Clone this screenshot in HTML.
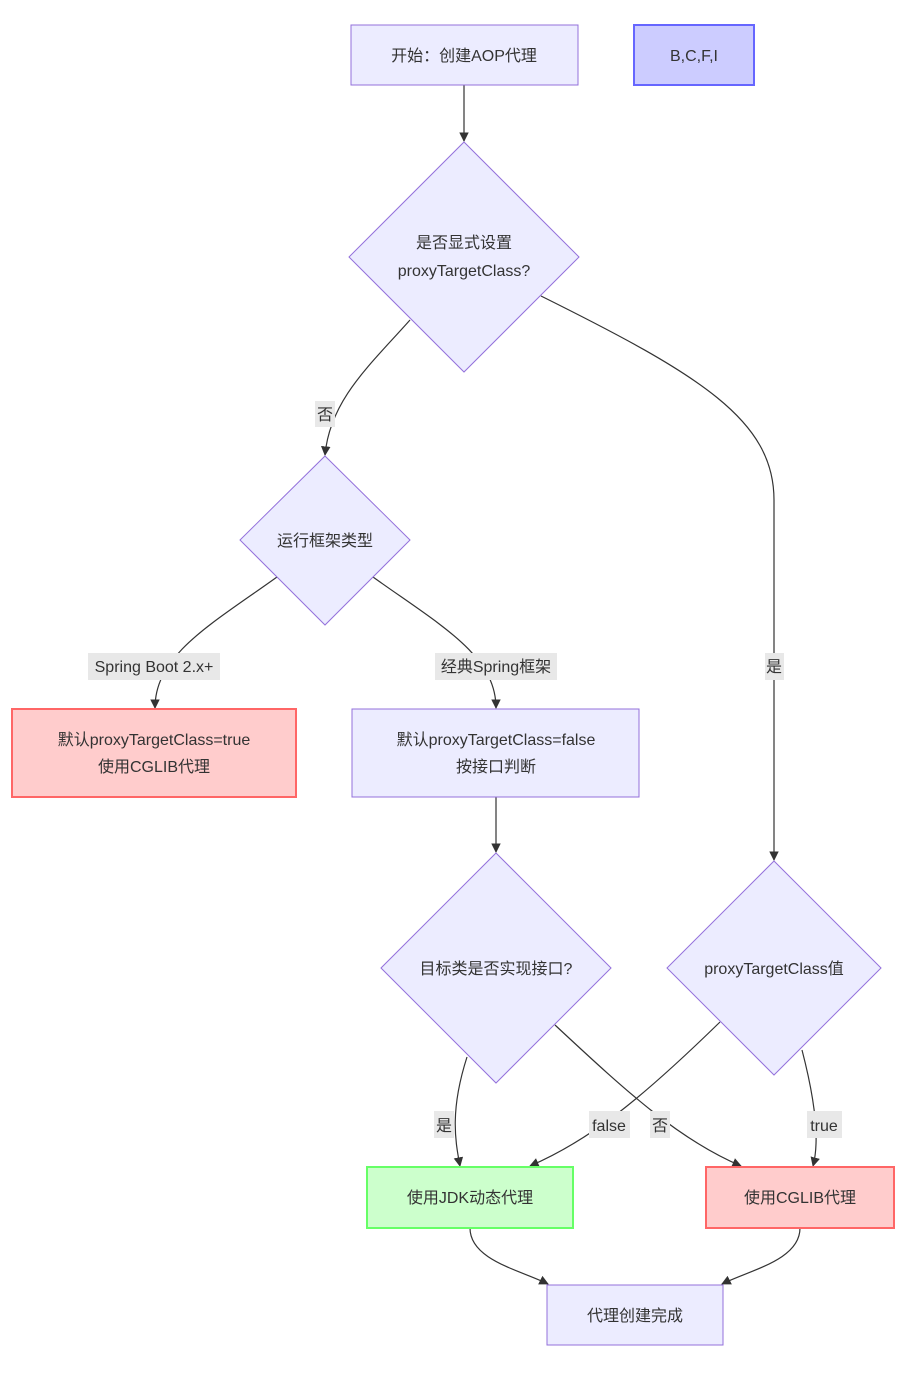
<!DOCTYPE html>
<html><head><meta charset="utf-8"><style>
html,body{margin:0;padding:0;background:#fff;}
svg text{font-family:"Liberation Sans","Noto Sans CJK SC",sans-serif;font-size:16px;fill:#333;}
</style></head><body>
<svg width="902" height="1373" viewBox="0 0 902 1373" xmlns="http://www.w3.org/2000/svg">
<defs><marker id="a" viewBox="0 0 10 10" refX="9" refY="5" markerWidth="8" markerHeight="8" orient="auto"><path d="M0,0L10,5L0,10z" fill="#333"/></marker></defs>
<g fill="none" stroke="#333" stroke-width="1.2" marker-end="url(#a)">
<path d="M464,85L464,141"/>
<path d="M410,320C370,365 330,400 325,455"/>
<path d="M541,296C700,375 774,420 774,500L774,860"/>
<path d="M277,577C210,625 155,655 155,708"/>
<path d="M373,577C440,625 496,655 496,708"/>
<path d="M496,797L496,852"/>
<path d="M467,1057C450,1110 455,1140 460,1166"/>
<path d="M555,1025C630,1095 680,1140 741,1166"/>
<path d="M720,1022C640,1100 590,1140 530,1166"/>
<path d="M802,1050C815,1100 820,1140 813,1166"/>
<path d="M470,1228C470,1260 520,1270 548,1284"/>
<path d="M800,1228C800,1260 750,1270 722,1284"/>
</g>
<g fill="#ECECFF" stroke="#9370DB" stroke-width="1">
<rect x="351" y="25" width="227" height="60"/>
<polygon points="464,142 579,257 464,372 349,257"/>
<polygon points="325,456 410,540 325,625 240,540"/>
<rect x="352" y="709" width="287" height="88"/>
<polygon points="496,853 611,968 496,1083 381,968"/>
<polygon points="774,861 881,968 774,1075 667,968"/>
<rect x="547" y="1285" width="176" height="60"/>
</g>
<rect x="634" y="25" width="120" height="60" fill="#ccccff" stroke="#6666ff" stroke-width="2"/>
<rect x="12" y="709" width="284" height="88" fill="#ffcccc" stroke="#ff6666" stroke-width="2"/>
<rect x="367" y="1167" width="206" height="61" fill="#ccffcc" stroke="#66ff66" stroke-width="2"/>
<rect x="706" y="1167" width="188" height="61" fill="#ffcccc" stroke="#ff6666" stroke-width="2"/>
<g fill="#e8e8e8">
<rect x="315" y="401" width="20" height="26"/>
<rect x="88" y="653" width="132" height="27"/>
<rect x="435" y="653" width="122" height="27"/>
<rect x="765" y="653" width="19" height="27"/>
<rect x="434" y="1111" width="20" height="27"/>
<rect x="589" y="1111" width="41" height="27"/>
<rect x="650" y="1111" width="20" height="27"/>
<rect x="807" y="1111" width="35" height="27"/>
</g>
<g text-anchor="middle">
<text x="464" y="61">开始：创建AOP代理</text>
<text x="694" y="61">B,C,F,I</text>
<text x="464" y="248">是否显式设置</text>
<text x="464" y="276">proxyTargetClass?</text>
<text x="325" y="546">运行框架类型</text>
<text x="154" y="745">默认proxyTargetClass=true</text>
<text x="154" y="772">使用CGLIB代理</text>
<text x="496" y="745">默认proxyTargetClass=false</text>
<text x="496" y="772">按接口判断</text>
<text x="496" y="974">目标类是否实现接口?</text>
<text x="774" y="974">proxyTargetClass值</text>
<text x="470" y="1203">使用JDK动态代理</text>
<text x="800" y="1203">使用CGLIB代理</text>
<text x="635" y="1321">代理创建完成</text>
<text x="325" y="420">否</text>
<text x="154" y="672">Spring Boot 2.x+</text>
<text x="496" y="672">经典Spring框架</text>
<text x="774" y="672">是</text>
<text x="444" y="1131">是</text>
<text x="609" y="1131">false</text>
<text x="660" y="1131">否</text>
<text x="824" y="1131">true</text>
</g>
</svg>
</body></html>
